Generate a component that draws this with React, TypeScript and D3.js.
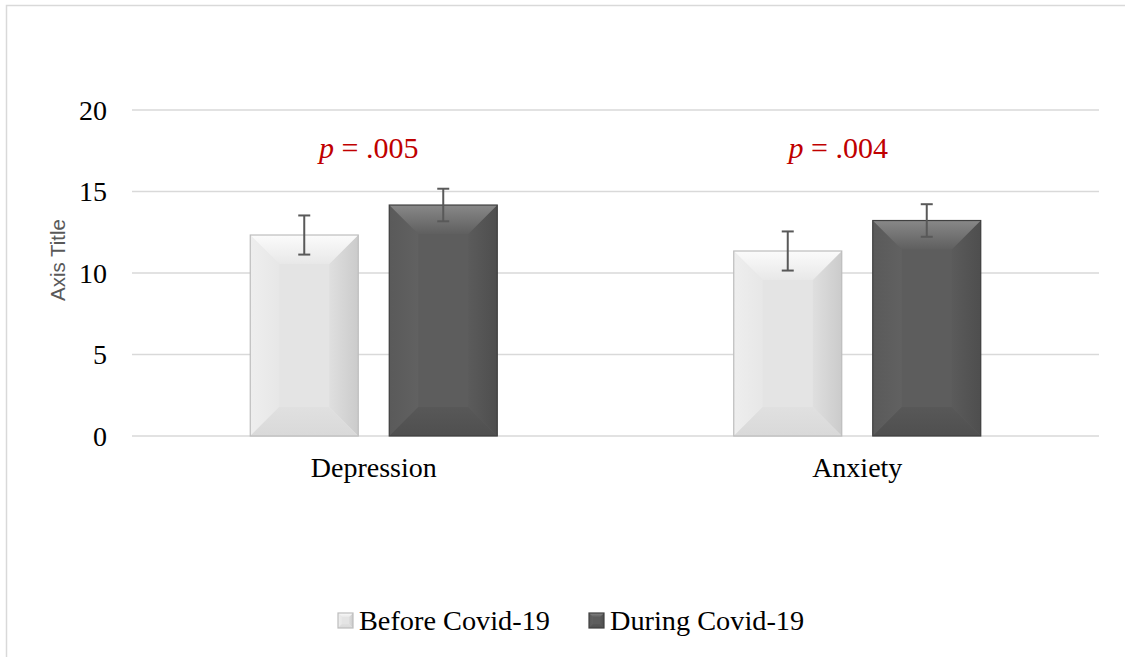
import React from "react";
import * as d3 from "d3";

const categories = ["Depression", "Anxiety"];
const seriesNames = ["Before Covid-19", "During Covid-19"];
const beforeValues = [12.33, 11.35];
const duringValues = [14.17, 13.22];
const beforeErrors = [1.2, 1.2];
const duringErrors = [1.0, 1.0];
const pValues = [".005", ".004"];
const yTicks = [0, 5, 10, 15, 20];

const W = 1125;
const H = 657;
const plot = { left: 132, right: 1099, top: 110, bottom: 436 };
const serif = "'Liberation Serif', 'Times New Roman', serif";

type Palette = {
  base: string; top: [string, string]; bottom: [string, string];
  left: [string, string]; right: [string, string]; stroke: string;
};

const palettes: Palette[] = [
  { base: "#e4e4e4", top: ["#fbfbfb", "#e8e8e8"], bottom: ["#e0e0e0", "#d9d9d9"],
    left: ["#eeeeee", "#e7e7e7"], right: ["#dfdfdf", "#cbcbcb"], stroke: "#bdbdbd" },
  { base: "#5d5d5d", top: ["#888888", "#5f5f5f"], bottom: ["#585858", "#4f4f4f"],
    left: ["#5a5a5a", "#616161"], right: ["#5b5b5b", "#4e4e4e"], stroke: "#404040" },
];

function BevelBar({ x, y, w, h, p, id, bevel = 29 }: { x: number; y: number; w: number; h: number; p: Palette; id: string; bevel?: number }) {
  const b = Math.min(bevel, w / 2, h / 2);
  const x1 = x + w, y1 = y + h;
  const top = `${x},${y} ${x1},${y} ${x1 - b},${y + b} ${x + b},${y + b}`;
  const bottom = `${x},${y1} ${x1},${y1} ${x1 - b},${y1 - b} ${x + b},${y1 - b}`;
  const left = `${x},${y} ${x + b},${y + b} ${x + b},${y1 - b} ${x},${y1}`;
  const right = `${x1},${y} ${x1 - b},${y + b} ${x1 - b},${y1 - b} ${x1},${y1}`;
  return (
    <g>
      <defs>
        <linearGradient id={`${id}-t`} x1="0" y1="0" x2="0" y2="1">
          <stop offset="0" stopColor={p.top[0]} /><stop offset="1" stopColor={p.top[1]} />
        </linearGradient>
        <linearGradient id={`${id}-b`} x1="0" y1="0" x2="0" y2="1">
          <stop offset="0" stopColor={p.bottom[0]} /><stop offset="1" stopColor={p.bottom[1]} />
        </linearGradient>
        <linearGradient id={`${id}-l`} x1="0" y1="0" x2="1" y2="0">
          <stop offset="0" stopColor={p.left[0]} /><stop offset="1" stopColor={p.left[1]} />
        </linearGradient>
        <linearGradient id={`${id}-r`} x1="0" y1="0" x2="1" y2="0">
          <stop offset="0" stopColor={p.right[0]} /><stop offset="1" stopColor={p.right[1]} />
        </linearGradient>
      </defs>
      <rect x={x} y={y} width={w} height={h} fill={p.base} />
      <polygon points={left} fill={`url(#${id}-l)`} />
      <polygon points={right} fill={`url(#${id}-r)`} />
      <polygon points={top} fill={`url(#${id}-t)`} />
      <polygon points={bottom} fill={`url(#${id}-b)`} />
      <rect x={x} y={y} width={w} height={h} fill="none" stroke={p.stroke} strokeWidth={1.2} />
    </g>
  );
}

export default function App() {
  const y = d3.scaleLinear().domain([0, 20]).range([plot.bottom, plot.top]);
  const x0 = d3.scaleBand<string>().domain(categories).range([plot.left, plot.right]);
  const groupW = 247;
  const x1 = d3.scaleBand<string>().domain(seriesNames).range([0, groupW]).paddingInner(0.223);
  const values = [beforeValues, duringValues];
  const errors = [beforeErrors, duringErrors];
  const pOffsets = [-5, -19];

  return (
    <svg width={W} height={H} style={{ position: "absolute", left: 0, top: 0, background: "#fff" }}>
      <rect x={6.5} y={5.5} width={W + 10} height={H + 10} fill="#fff" stroke="#d9d9d9" strokeWidth={1.5} />
      {yTicks.map((t) => (
        <g key={t}>
          <line x1={plot.left} x2={plot.right} y1={y(t)} y2={y(t)} stroke="#d9d9d9" strokeWidth={1.5} />
          <text x={107} y={y(t)} dy="0.34em" textAnchor="end" fontFamily={serif} fontSize={28} fill="#000">{t}</text>
        </g>
      ))}
      <text transform={`translate(65,260) rotate(-90)`} textAnchor="middle" fontFamily="'Liberation Sans', Arial, sans-serif" fontSize={20.5} fill="#595959">Axis Title</text>
      {categories.map((c, ci) => {
        const gx = (x0(c) as number) + x0.bandwidth() / 2 - groupW / 2;
        return (
          <g key={c}>
            {seriesNames.map((s, si) => {
              const v = values[si][ci];
              const bx = gx + (x1(s) as number);
              const bw = x1.bandwidth();
              return (
                <BevelBar key={s} id={`bar-${ci}-${si}`} x={bx} y={y(v)} w={bw} h={y(0) - y(v)} p={palettes[si]} />
              );
            })}
            {seriesNames.map((s, si) => {
              const v = values[si][ci];
              const e = errors[si][ci];
              const cx = gx + (x1(s) as number) + x1.bandwidth() / 2;
              return (
                <g key={`e-${s}`} stroke="#595959" strokeWidth={2}>
                  <line x1={cx} x2={cx} y1={y(v + e)} y2={y(v - e)} />
                  <line x1={cx - 6} x2={cx + 6} y1={y(v + e)} y2={y(v + e)} />
                  <line x1={cx - 6} x2={cx + 6} y1={y(v - e)} y2={y(v - e)} />
                </g>
              );
            })}
            <text x={(x0(c) as number) + x0.bandwidth() / 2} y={477} textAnchor="middle" fontFamily={serif} fontSize={28} fill="#000">{c}</text>
            <text x={(x0(c) as number) + x0.bandwidth() / 2 + pOffsets[ci]} y={158} textAnchor="middle" fontFamily={serif} fontSize={30} fill="#c00000">
              <tspan fontStyle="italic">p</tspan> = {pValues[ci]}
            </text>
          </g>
        );
      })}
      {seriesNames.map((s, si) => {
        const lx = [338, 589][si];
        return (
          <g key={`lg-${s}`}>
            <BevelBar id={`lg-${si}`} x={lx} y={613} w={15} h={15} p={palettes[si]} bevel={4} />
            <text x={lx + 21} y={630} fontFamily={serif} fontSize={28.3} fill="#000">{s}</text>
          </g>
        );
      })}
    </svg>
  );
}
